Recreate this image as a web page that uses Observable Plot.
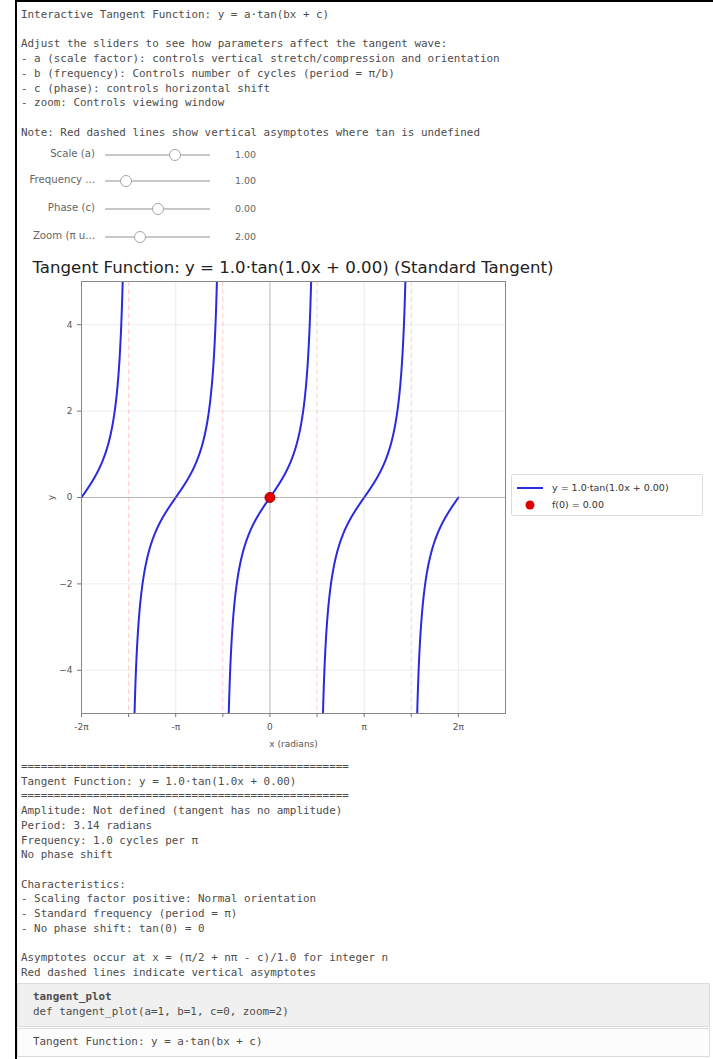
<!DOCTYPE html>
<html>
<head>
<meta charset="utf-8">
<script src="https://cdn.jsdelivr.net/npm/d3@7"></script>
<script src="https://cdn.jsdelivr.net/npm/@observablehq/plot@0.6"></script>
<style>
  body { margin: 0; background: #fff; width: 713px; height: 1059px; overflow: hidden; position: relative; font-family: "DejaVu Sans", sans-serif; }
  .edgeL { position: absolute; left: 15px; top: 0; width: 2px; height: 1059px; background: #000; }
  .edgeT { position: absolute; left: 15px; top: 0; width: 698px; height: 2px; background: #000; }
  .mono { position: absolute; left: 21px; font-family: "DejaVu Sans Mono", monospace; font-size: 10.9px; color: #4d4d4d; white-space: pre; line-height: 14.7px; margin: 0; }
  .slabel { position: absolute; font-size: 10.2px; color: #666; text-align: right; width: 90px; white-space: nowrap; }
  .strack { position: absolute; height: 2px; background: #c8c8c8; }
  .sknob { position: absolute; width: 12px; height: 12px; border-radius: 50%; background: #fff; border: 1px solid #a8a8a8; box-sizing: border-box; }
  .svalue { position: absolute; font-size: 9.5px; color: #666; }
  #title { position: absolute; left: 0; width: 586px; text-align: center; top: 258px; font-size: 16.6px; color: #222; }
  #chart { position: absolute; left: 0; top: 250px; }
  #legend { position: absolute; left: 511px; top: 474px; width: 190px; height: 40px; border: 1px solid #ddd; border-radius: 2px; background: #fff; font-size: 9.5px; color: #333; }
  .box1 { position: absolute; left: 17px; top: 983px; width: 693px; height: 44px; background: #f0f0f0; border: 1px solid #dcdcdc; box-sizing: border-box; }
  .box2 { position: absolute; left: 17px; top: 1028px; width: 693px; height: 29px; background: #fcfcfc; border: 1px solid #dcdcdc; box-sizing: border-box; }
</style>
</head>
<body>
<div class="edgeL"></div>
<div class="edgeT"></div>
<pre class="mono" id="intro" style="top:8px"></pre>
<div id="sliders"></div>
<div id="title"></div>
<div id="chart"></div>
<div id="legend"></div>
<pre class="mono" id="report" style="top:760px"></pre>
<div class="box1"></div>
<div class="box2"></div>
<pre class="mono" id="sig" style="top:990px;left:33px"></pre>
<pre class="mono" id="doc" style="top:1035px;left:33px"></pre>
<script>
// Function parameters: y = a·tan(bx + c), shown over ±zoom·π
const scaleA = 1.0;
const freqB = 1.0;
const phaseC = 0.0;
const zoomSpan = 2;

// Slider widgets
const sliderNames = ["Scale (a)", "Frequency ...", "Phase (c)", "Zoom (π u..."];
const sliderValues = [1.0, 1.0, 0.0, 2.0];
const sliderMin = [-3, 0.5, -3.14, 1];
const sliderMax = [3, 3, 3.14, 4];

// Axis ticks
const xTickValues = [-2, -1.5, -1, -0.5, 0, 0.5, 1, 1.5, 2]; // multiples of π
const xTickLabels = ["-2π", "", "-π", "", "0", "", "π", "", "2π"];
const yTickValues = [-4, -2, 0, 2, 4];
const yLimit = 5;
const cutoff = 10;

const introLines = [
  "Interactive Tangent Function: y = a·tan(bx + c)",
  "",
  "Adjust the sliders to see how parameters affect the tangent wave:",
  "- a (scale factor): controls vertical stretch/compression and orientation",
  "- b (frequency): Controls number of cycles (period = π/b)",
  "- c (phase): controls horizontal shift",
  "- zoom: Controls viewing window",
  "",
  "Note: Red dashed lines show vertical asymptotes where tan is undefined"
];

const sep = "=".repeat(50);
const reportLines = [
  sep,
  `Tangent Function: y = ${scaleA.toFixed(1)}·tan(${freqB.toFixed(1)}x + ${phaseC.toFixed(2)})`,
  sep,
  "Amplitude: Not defined (tangent has no amplitude)",
  `Period: ${(Math.PI / freqB).toFixed(2)} radians`,
  `Frequency: ${freqB.toFixed(1)} cycles per π`,
  "No phase shift",
  "",
  "Characteristics:",
  "- Scaling factor positive: Normal orientation",
  "- Standard frequency (period = π)",
  "- No phase shift: tan(0) = 0",
  "",
  `Asymptotes occur at x = (π/2 + nπ - c)/${freqB.toFixed(1)} for integer n`,
  "Red dashed lines indicate vertical asymptotes"
];

document.getElementById("intro").textContent = introLines.join("\n");
document.getElementById("report").textContent = reportLines.join("\n");
document.getElementById("sig").innerHTML = "<b>tangent_plot</b>\ndef tangent_plot(a=1, b=1, c=0, zoom=2)";
document.getElementById("doc").textContent = "Tangent Function: y = a·tan(bx + c)";

// Slider rows
const rowY = [155, 181, 209, 237];
const trackX0 = 105, trackX1 = 210;
const sliders = document.getElementById("sliders");
sliderNames.forEach((name, i) => {
  const lab = document.createElement("div");
  lab.className = "slabel";
  lab.textContent = name;
  lab.style.left = "5px";
  lab.style.top = (rowY[i] - 7) + "px";
  sliders.appendChild(lab);
  const tr = document.createElement("div");
  tr.className = "strack";
  tr.style.left = trackX0 + "px";
  tr.style.width = (trackX1 - trackX0) + "px";
  tr.style.top = (rowY[i] - 1) + "px";
  sliders.appendChild(tr);
  const t = (sliderValues[i] - sliderMin[i]) / (sliderMax[i] - sliderMin[i]);
  const kx = trackX0 + t * (trackX1 - trackX0);
  const kn = document.createElement("div");
  kn.className = "sknob";
  kn.style.left = (kx - 6) + "px";
  kn.style.top = (rowY[i] - 6) + "px";
  sliders.appendChild(kn);
  const v = document.createElement("div");
  v.className = "svalue";
  v.textContent = sliderValues[i].toFixed(2);
  v.style.left = "235px";
  v.style.top = (rowY[i] - 6) + "px";
  sliders.appendChild(v);
});

// Title
const kind = (scaleA === 1 && freqB === 1 && phaseC === 0) ? " (Standard Tangent)" : "";
document.getElementById("title").textContent =
  `Tangent Function: y = ${scaleA.toFixed(1)}·tan(${freqB.toFixed(1)}x + ${phaseC.toFixed(2)})${kind}`;

// Curve samples across the viewing window, broken at the asymptotes
const N = 4000;
const xs = d3.range(N + 1).map(i => -zoomSpan * Math.PI + (2 * zoomSpan * Math.PI) * i / N);
const curve = xs.map(x => {
  const y = scaleA * Math.tan(freqB * x + phaseC);
  return {x, y: Math.abs(y) > cutoff ? NaN : y};
});

// Asymptotes where bx + c = π/2 + nπ
const asymptotes = d3.range(-6, 7)
  .map(n => (Math.PI / 2 + n * Math.PI - phaseC) / freqB)
  .filter(x => x > -zoomSpan * Math.PI && x < zoomSpan * Math.PI);

const f0 = scaleA * Math.tan(phaseC);

const xDomain = [-zoomSpan * Math.PI, (zoomSpan + 0.5) * Math.PI];
const majorX = xTickValues.filter((v, i) => xTickLabels[i] !== "").map(v => v * Math.PI);
const labelOf = new Map(xTickValues.map((v, i) => [v * Math.PI, xTickLabels[i]]));

const chart = Plot.plot({
  width: 713,
  height: 510,
  marginLeft: 81,
  marginRight: 208,
  marginTop: 31,
  marginBottom: 47,
  style: {fontFamily: "DejaVu Sans, sans-serif", fontSize: "9px", color: "#555", background: "transparent"},
  x: {domain: xDomain},
  y: {domain: [-yLimit, yLimit]},
  marks: [
    Plot.ruleY(yTickValues, {stroke: "#e8e8e8", strokeWidth: 0.8}),
    Plot.ruleX(majorX.filter(v => v !== 0), {stroke: "#e3e3e3", strokeWidth: 0.8}),
    Plot.ruleX(asymptotes, {stroke: "red", strokeOpacity: 0.2, strokeWidth: 1, strokeDasharray: "5,3"}),
    Plot.ruleX([0], {stroke: "#999", strokeOpacity: 0.7, strokeWidth: 1}),
    Plot.line(curve, {x: "x", y: "y", stroke: "#2a2ae0", strokeWidth: 2, clip: true}),
    Plot.ruleY([0], {stroke: "#888", strokeOpacity: 0.55, strokeWidth: 1}),
    Plot.dot([{x: 0, y: f0}], {x: "x", y: "y", r: 5, fill: "#e00000", stroke: "#b00000", strokeWidth: 1}),
    Plot.frame({stroke: "#888", strokeWidth: 1}),
    Plot.axisX(xTickValues.map(v => v * Math.PI), {
      tickFormat: d => labelOf.get(d) ?? "",
      tickSize: 4, tickPadding: 6, stroke: "#777", fill: "#555",
      label: "x (radians)", labelAnchor: "center", labelArrow: "none", labelOffset: 33
    }),
    Plot.axisY(yTickValues, {
      tickFormat: d => d < 0 ? "−" + Math.abs(d) : String(d),
      tickSize: 4, tickPadding: 5, stroke: "#777", fill: "#555",
      label: "y", labelAnchor: "center", labelArrow: "none", labelOffset: 34
    })
  ]
});
document.getElementById("chart").appendChild(chart);

// Legend
const legendItems = [
  {kind: "line", text: `y = ${scaleA.toFixed(1)}·tan(${freqB.toFixed(1)}x + ${phaseC.toFixed(2)})`},
  {kind: "dot", text: `f(0) = ${f0.toFixed(2)}`}
];
const legend = d3.select("#legend").append("svg").attr("width", 190).attr("height", 40);
legendItems.forEach((item, i) => {
  const cy = 13 + i * 17;
  if (item.kind === "line") {
    legend.append("line").attr("x1", 5).attr("x2", 31).attr("y1", cy).attr("y2", cy)
      .attr("stroke", "#2a2ae0").attr("stroke-width", 2);
  } else {
    legend.append("circle").attr("cx", 18).attr("cy", cy).attr("r", 4.5).attr("fill", "#e00000");
  }
  legend.append("text").attr("x", 40).attr("y", cy).attr("dy", "0.35em")
    .attr("font-size", 9.5).attr("fill", "#333").attr("font-family", "DejaVu Sans, sans-serif")
    .text(item.text);
});
</script>
</body>
</html>
